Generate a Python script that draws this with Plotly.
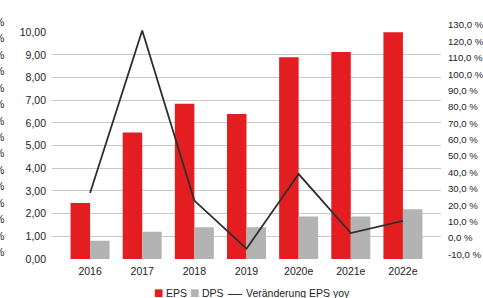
import plotly.graph_objects as go

# ---- data ----
years = ["2016", "2017", "2018", "2019", "2020e", "2021e", "2022e"]
eps = [2.47, 5.58, 6.85, 6.40, 8.90, 9.13, 10.06]
dps = [0.80, 1.20, 1.40, 1.40, 1.88, 1.88, 2.19]
eps_yoy = [27.4, 126.7, 22.8, -6.6, 39.0, 3.0, 10.4]

left_tickvals = [0, 1, 2, 3, 4, 5, 6, 7, 8, 9, 10]
left_ticktext = ["0,00", "1,00", "2,00", "3,00", "4,00", "5,00", "6,00", "7,00", "8,00", "9,00", "10,00"]
right_tickvals = [-10, 0, 10, 20, 30, 40, 50, 60, 70, 80, 90, 100, 110, 120, 130]
right_ticktext = ["-10,0 %", "0,0 %", "10,0 %", "20,0 %", "30,0 %", "40,0 %", "50,0 %", "60,0 %",
                  "70,0 %", "80,0 %", "90,0 %", "100,0 %", "110,0 %", "120,0 %", "130,0 %"]

series_names = ["EPS", "DPS", "Veränderung EPS yoy"]

RED = "#e41e20"
GREY = "#b3b3b3"
LINE = "#2e2e2e"
TXT = "#222222"
FONT = "Liberation Sans, Arial, sans-serif"
FS = 10.5

W, H = 483, 298
ML, MR, MT, MB = 52, 42, 24, 39
PW, PH = W - ML - MR, H - MT - MB
BOTTOM = H - MB  # pixel y of plot bottom


def dom(py_bottom, py_top):
    return [max(0.0, (BOTTOM - py_bottom) / PH), min(1.0, (BOTTOM - py_top) / PH)]


def px_x(px):
    return (px - ML) / PW


def px_y(py):
    return (BOTTOM - py) / PH


fig = go.Figure()
fig.add_trace(go.Bar(x=years, y=eps, name=series_names[0], marker=dict(color=RED, line=dict(width=0)),
                     xaxis="x", yaxis="y"))
fig.add_trace(go.Bar(x=years, y=dps, name=series_names[1], marker=dict(color=GREY, line=dict(width=0)),
                     xaxis="x", yaxis="y"))
fig.add_trace(go.Scatter(x=years, y=eps_yoy, name=series_names[2], mode="lines",
                         line=dict(color=LINE, width=1.8), xaxis="x", yaxis="y2"))

annotations = []
# cut-off "%" labels of a neighbouring chart at the far left edge
for i in range(15):
    py = 22 + 16.43 * i
    annotations.append(dict(text="%", xref="paper", yref="paper",
                            x=px_x(5.5), y=px_y(py),
                            xanchor="right", yanchor="middle", showarrow=False,
                            font=dict(family=FONT, size=FS, color=TXT)))

# legend row (symbols as glyphs + labels)
LEG_Y = px_y(292.5)
legend_items = [
    ("■", RED, 153, "DejaVu Sans", 10, series_names[0], 165),
    ("■", GREY, 189, "DejaVu Sans", 10, series_names[1], 200.5),
    ("—", LINE, 227, FONT, 14, series_names[2], 245),
]
for sym, col, sx, sfont, ssize, label, tx in legend_items:
    annotations.append(dict(text=sym, xref="paper", yref="paper", x=px_x(sx), y=LEG_Y,
                            xanchor="left", yanchor="middle", showarrow=False, borderpad=0,
                            font=dict(family=sfont, size=ssize, color=col)))
    annotations.append(dict(text=label, xref="paper", yref="paper", x=px_x(tx), y=LEG_Y,
                            xanchor="left", yanchor="middle", showarrow=False, borderpad=0,
                            font=dict(family=FONT, size=FS, color=TXT)))

fig.update_layout(
    width=W, height=H,
    margin=dict(l=ML, r=MR, t=MT, b=MB, pad=0, autoexpand=False),
    paper_bgcolor="white", plot_bgcolor="rgba(0,0,0,0)",
    font=dict(family=FONT, size=FS, color=TXT),
    barmode="group", bargap=0.252, bargroupgap=0,
    showlegend=False,
    xaxis=dict(type="category", range=[-0.73, 6.73], showgrid=False, zeroline=False,
               showline=False, ticks="", anchor="y", ticklabelstandoff=4,
               tickfont=dict(size=FS, color=TXT)),
    yaxis=dict(domain=dom(BOTTOM, 32.3), range=[0, 10],
               tickvals=left_tickvals, ticktext=left_ticktext,
               showgrid=True, gridcolor="#c8c8c8", gridwidth=1, zeroline=False,
               showline=False, ticks="", ticklabelstandoff=5, anchor="x"),
    yaxis2=dict(domain=dom(254.3, 25), range=[-10, 130],
                side="right", anchor="x", tickvals=right_tickvals, ticktext=right_ticktext,
                tickfont=dict(size=9.6, color=TXT),
                showgrid=False, zeroline=False, showline=False, ticks="", ticklabelstandoff=6),
    annotations=annotations,
)

fig.write_html("out.html", config={"displayModeBar": False},
               post_script="document.body.style.margin='0px';document.body.style.overflow='hidden';")
